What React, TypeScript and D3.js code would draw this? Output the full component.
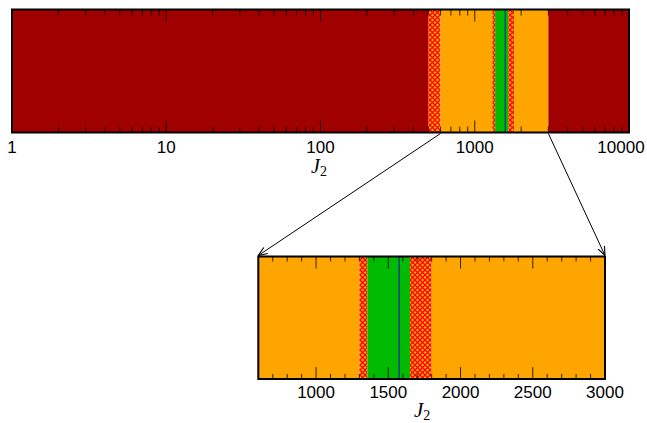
import React from "react";
import * as d3 from "d3";

// Top panel: phase regions over J2 (log axis)
const topRegions = [
  { from: 1, to: 500, kind: "dark" },
  { from: 500, to: 600, kind: "hatch" },
  { from: 600, to: 1300, kind: "orange" },
  { from: 1300, to: 1355, kind: "hatch" },
  { from: 1355, to: 1650, kind: "green" },
  { from: 1650, to: 1800, kind: "hatch" },
  { from: 1800, to: 3000, kind: "orange" },
  { from: 3000, to: 10000, kind: "dark" },
];
// Bottom panel: zoom 600..3000 (linear axis)
const bottomRegions = [
  { from: 600, to: 1300, kind: "orange" },
  { from: 1300, to: 1355, kind: "hatch" },
  { from: 1355, to: 1650, kind: "green" },
  { from: 1650, to: 1800, kind: "hatch" },
  { from: 1800, to: 3000, kind: "orange" },
];
const blueLine = 1575;
const topMajorTicks = [1, 10, 100, 1000, 10000];
const bottomMajorTicks = [1000, 1500, 2000, 2500, 3000];
const topDomain = [1, 10000];
const bottomDomain = [600, 3000];

const fills: Record<string, string> = {
  dark: "#a00000",
  orange: "#ffa500",
  green: "#00bb00",
  hatch: "url(#hatch)",
};

export default function App() {
  const xTop = d3.scaleLog().domain(topDomain).range([12, 629]);
  const xBot = d3.scaleLinear().domain(bottomDomain).range([258.3, 605]);
  const top = { y0: 9.5, y1: 132.5 };
  const bot = { y0: 256.5, y1: 379 };

  const topMinor: number[] = [];
  for (let d = 1; d < 10000; d *= 10) for (let k = 2; k <= 9; k++) topMinor.push(d * k);
  const botMinor = d3.range(700, 3000, 100).filter((v) => v % 500 !== 0);

  const font = "'Liberation Sans', Arial, sans-serif";
  const serif = "'Liberation Serif', 'Times New Roman', serif";

  return (
    <svg width={647} height={423} style={{ position: "absolute", left: 0, top: 0 }}>
      <defs>
        <pattern id="hatch" width={5} height={5} patternUnits="userSpaceOnUse">
          <rect width={5} height={5} fill="#ffb000" />
          <path d="M0,0 L5,5 M5,0 L0,5" stroke="#ff0000" strokeWidth={1.3} />
        </pattern>
        <marker id="arr" viewBox="0 0 10 10" refX={10} refY={5} markerWidth={9} markerHeight={9} orient="auto">
          <path d="M0,1 L10,5 L0,9" fill="none" stroke="#000" strokeWidth={1.3} />
        </marker>
      </defs>
      <rect width={647} height={423} fill="#fff" />

      {/* top panel */}
      {topRegions.map((r, i) => (
        <rect key={"t" + i} x={xTop(r.from)} y={top.y0} width={xTop(r.to) - xTop(r.from)} height={top.y1 - top.y0} fill={fills[r.kind]} />
      ))}
      <line x1={xTop(blueLine)} x2={xTop(blueLine)} y1={top.y0} y2={top.y1} stroke="#1020a0" strokeWidth={1} />
      {topMinor.map((v) => (
        <g key={"tm" + v}>
          <line x1={xTop(v)} x2={xTop(v)} y1={top.y1} y2={top.y1 - 6} stroke="#000" strokeWidth={0.8} />
          <line x1={xTop(v)} x2={xTop(v)} y1={top.y0} y2={top.y0 + 6} stroke="#000" strokeWidth={0.8} />
        </g>
      ))}
      {topMajorTicks.map((v) => (
        <g key={"tM" + v}>
          <line x1={xTop(v)} x2={xTop(v)} y1={top.y1} y2={top.y1 - 12} stroke="#000" strokeWidth={0.8} />
          <line x1={xTop(v)} x2={xTop(v)} y1={top.y0} y2={top.y0 + 12} stroke="#000" strokeWidth={0.8} />
          <text x={v === 10000 ? xTop(v) - 8 : xTop(v)} y={153} textAnchor="middle" fontFamily={font} fontSize={17}>
            {v}
          </text>
        </g>
      ))}
      <rect x={xTop(topDomain[0])} y={top.y0} width={xTop(topDomain[1]) - xTop(topDomain[0])} height={top.y1 - top.y0} fill="none" stroke="#000" strokeWidth={2} />
      <text x={311} y={173} fontFamily={serif} fontSize={20} fontStyle="italic">
        J<tspan fontSize={14} dy={3} fontStyle="normal">2</tspan>
      </text>

      {/* arrows */}
      <line x1={xTop(600)} y1={top.y1 + 1} x2={xBot(600)} y2={bot.y0 - 1} stroke="#000" strokeWidth={1} markerEnd="url(#arr)" />
      <line x1={xTop(3000)} y1={top.y1 + 1} x2={xBot(3000)} y2={bot.y0 - 1} stroke="#000" strokeWidth={1} markerEnd="url(#arr)" />

      {/* bottom panel */}
      {bottomRegions.map((r, i) => (
        <rect key={"b" + i} x={xBot(r.from)} y={bot.y0} width={xBot(r.to) - xBot(r.from)} height={bot.y1 - bot.y0} fill={fills[r.kind]} />
      ))}
      <line x1={xBot(blueLine)} x2={xBot(blueLine)} y1={bot.y0} y2={bot.y1} stroke="#1020a0" strokeWidth={1.2} />
      {botMinor.map((v) => (
        <g key={"bm" + v}>
          <line x1={xBot(v)} x2={xBot(v)} y1={bot.y1} y2={bot.y1 - 5} stroke="#000" strokeWidth={0.8} />
          <line x1={xBot(v)} x2={xBot(v)} y1={bot.y0} y2={bot.y0 + 5} stroke="#000" strokeWidth={0.8} />
        </g>
      ))}
      {bottomMajorTicks.map((v) => (
        <g key={"bM" + v}>
          <line x1={xBot(v)} x2={xBot(v)} y1={bot.y1} y2={bot.y1 - 12} stroke="#000" strokeWidth={0.8} />
          <line x1={xBot(v)} x2={xBot(v)} y1={bot.y0} y2={bot.y0 + 12} stroke="#000" strokeWidth={0.8} />
          <text x={xBot(v)} y={398} textAnchor="middle" fontFamily={font} fontSize={17}>
            {v}
          </text>
        </g>
      ))}
      <rect x={xBot(bottomDomain[0])} y={bot.y0} width={xBot(bottomDomain[1]) - xBot(bottomDomain[0])} height={bot.y1 - bot.y0} fill="none" stroke="#000" strokeWidth={2} />
      <text x={414} y={417} fontFamily={serif} fontSize={21} fontStyle="italic">
        J<tspan fontSize={14} dy={3} fontStyle="normal">2</tspan>
      </text>
    </svg>
  );
}
